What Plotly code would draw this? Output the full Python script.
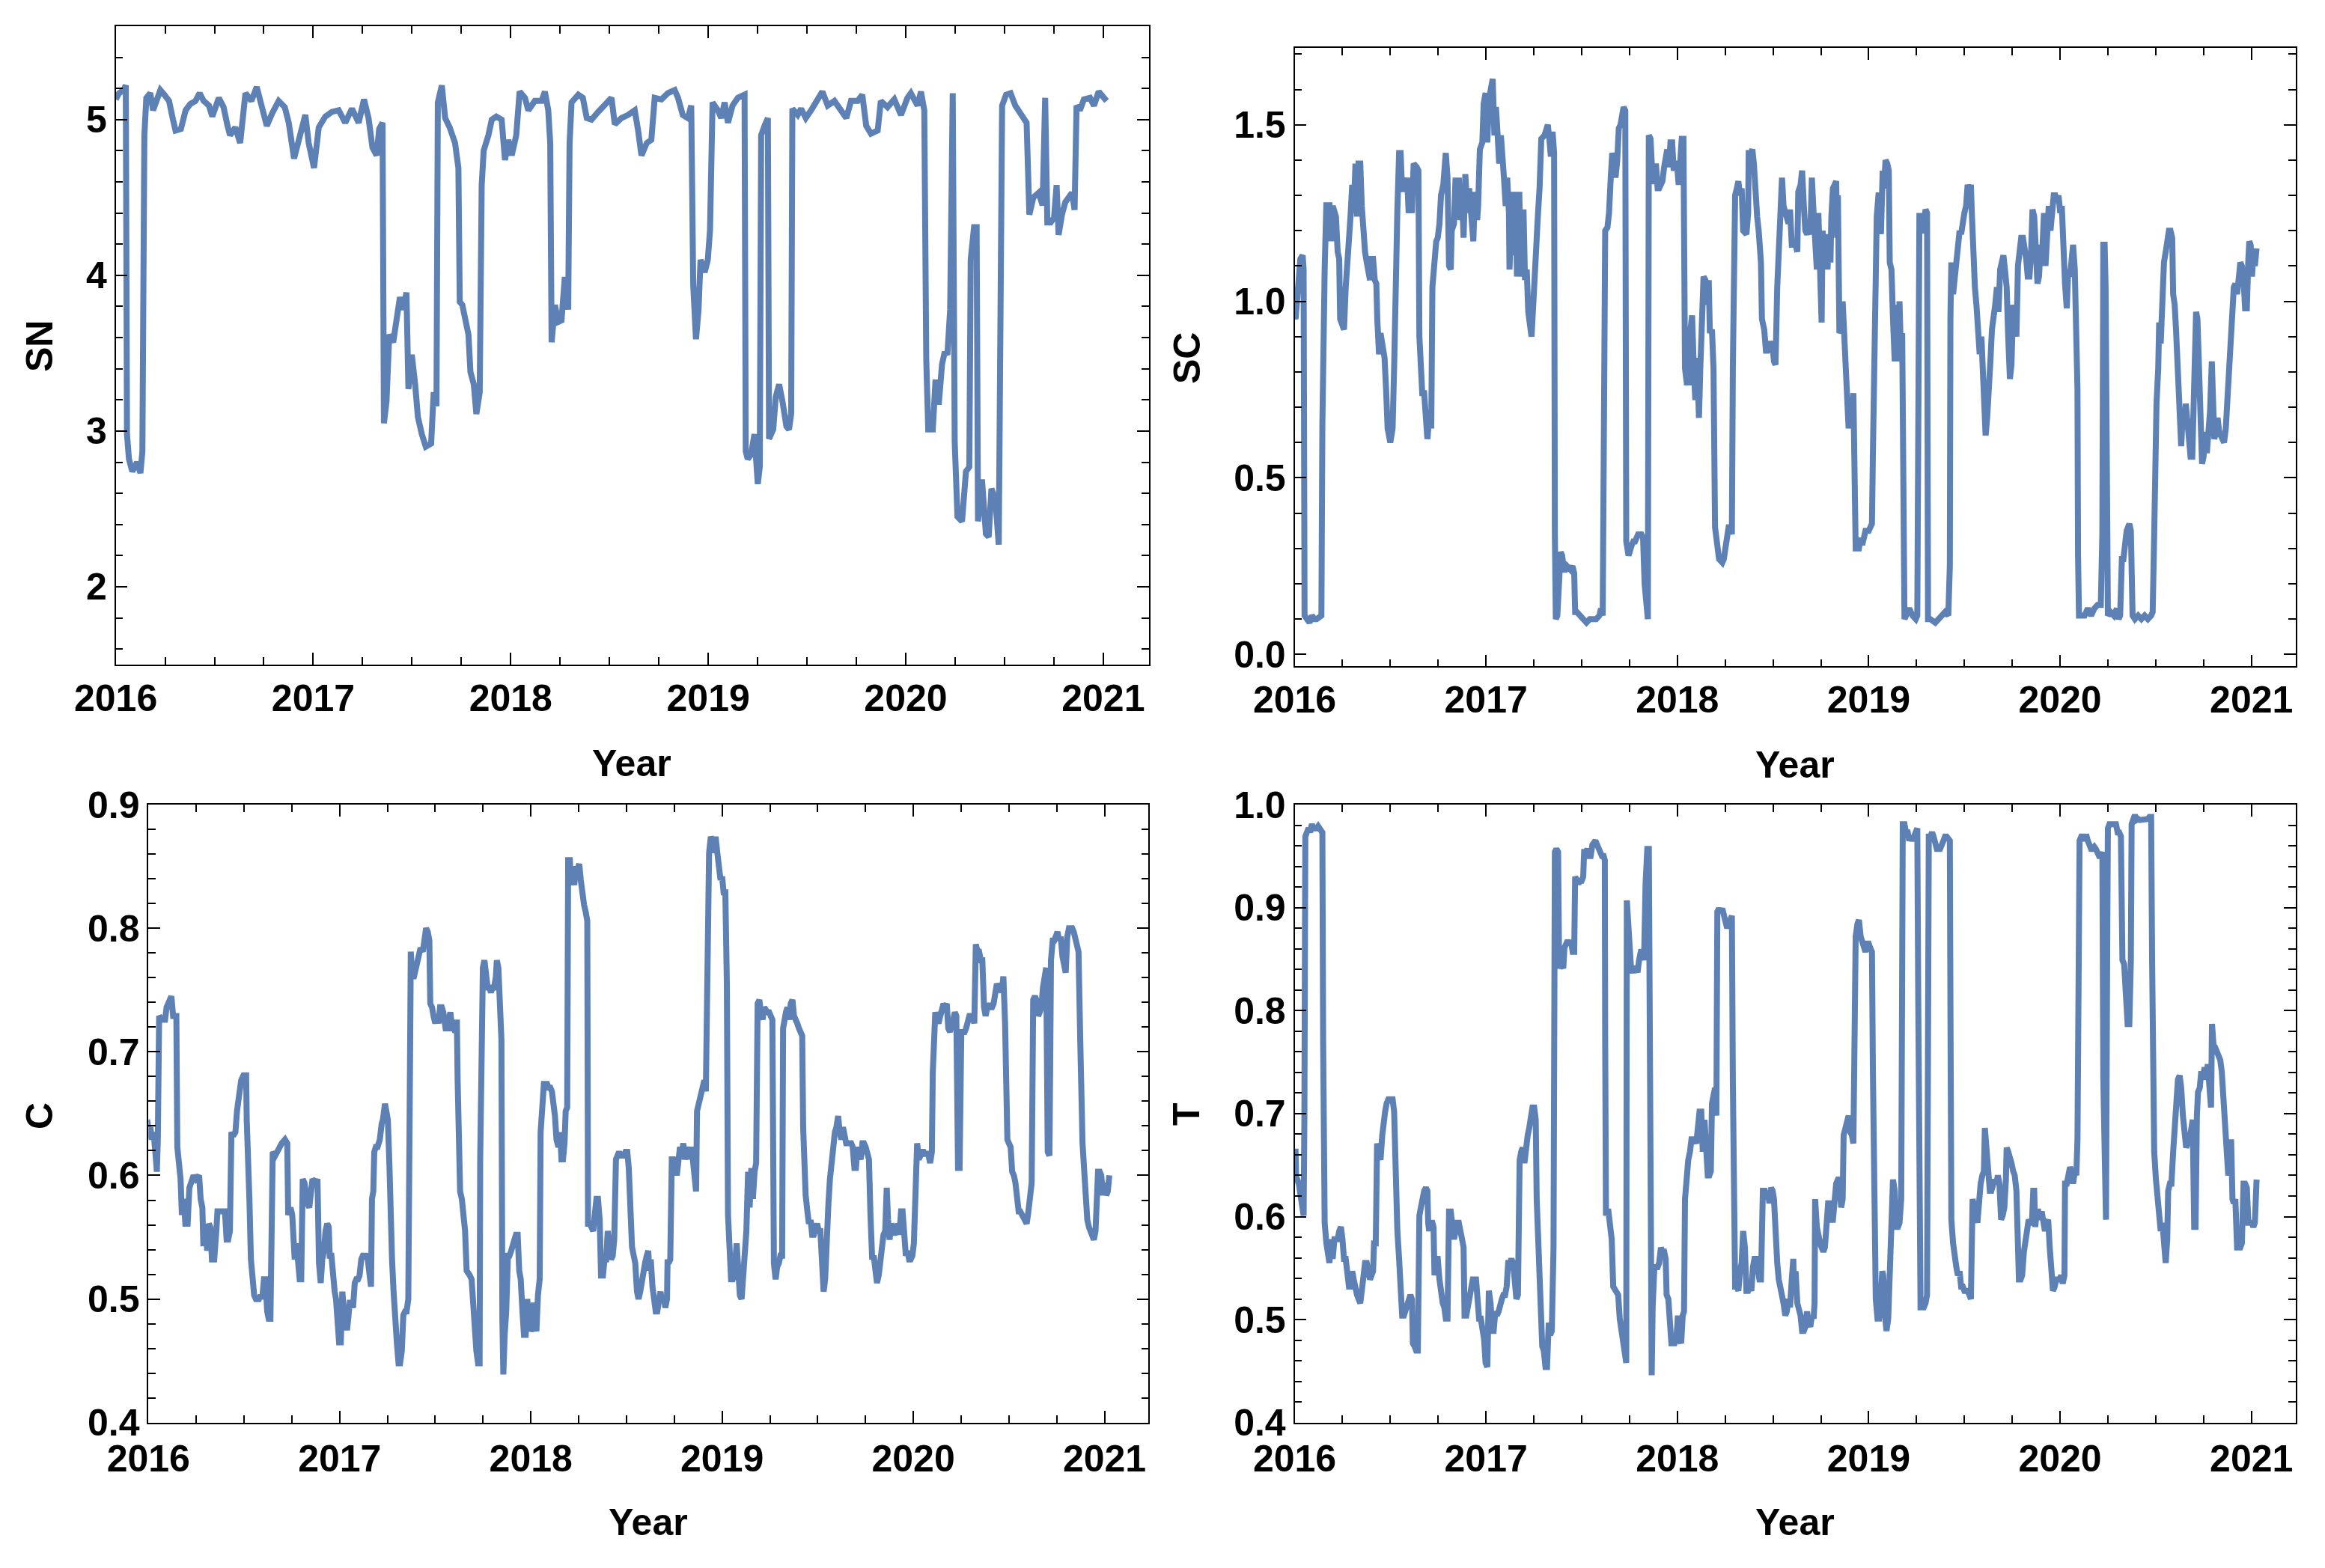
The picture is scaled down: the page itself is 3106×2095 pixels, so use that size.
import plotly.graph_objects as go

# ---------------- data (decimal year, value) ----------------
sn_points = [(2016.000,5.13),(2016.017,5.17),(2016.040,5.19),(2016.051,5.22),(2016.057,2.98),(2016.067,2.82),(2016.084,2.74),(2016.108,2.80),(2016.125,2.73),(2016.135,2.87),(2016.145,4.90),(2016.155,5.14),(2016.175,5.17),(2016.189,5.06),(2016.209,5.13),(2016.226,5.19),(2016.246,5.16),(2016.270,5.12),(2016.290,5.00),(2016.303,4.93),(2016.330,4.94),(2016.354,5.06),(2016.377,5.10),(2016.404,5.12),(2016.425,5.17),(2016.445,5.12),(2016.472,5.09),(2016.489,5.02),(2016.522,5.14),(2016.546,5.08),(2016.566,4.96),(2016.579,4.90),(2016.606,4.95),(2016.630,4.85),(2016.657,5.17),(2016.687,5.12),(2016.714,5.21),(2016.741,5.09),(2016.765,4.96),(2016.792,5.04),(2016.825,5.12),(2016.856,5.08),(2016.876,4.98),(2016.903,4.75),(2016.927,4.87),(2016.960,5.03),(2016.977,4.85),(2017.004,4.69),(2017.028,4.95),(2017.061,5.02),(2017.095,5.05),(2017.129,5.06),(2017.162,4.98),(2017.196,5.07),(2017.230,4.98),(2017.257,5.13),(2017.280,5.01),(2017.300,4.82),(2017.321,4.77),(2017.334,4.94),(2017.351,4.98),(2017.358,3.05),(2017.371,3.19),(2017.385,3.62),(2017.405,3.57),(2017.422,3.73),(2017.439,3.86),(2017.456,3.78),(2017.472,3.89),(2017.482,3.27),(2017.499,3.49),(2017.516,3.30),(2017.530,3.09),(2017.550,2.98),(2017.570,2.90),(2017.597,2.92),(2017.610,3.25),(2017.624,3.16),(2017.631,5.11),(2017.651,5.22),(2017.668,5.01),(2017.691,4.95),(2017.718,4.85),(2017.735,4.69),(2017.742,3.83),(2017.755,3.81),(2017.769,3.73),(2017.786,3.62),(2017.796,3.38),(2017.813,3.30),(2017.826,3.11),(2017.843,3.25),(2017.853,4.58),(2017.863,4.80),(2017.887,4.90),(2017.904,5.00),(2017.927,5.02),(2017.954,5.00),(2017.971,4.74),(2017.988,4.87),(2018.005,4.77),(2018.028,4.90),(2018.045,5.18),(2018.072,5.14),(2018.089,5.06),(2018.122,5.12),(2018.156,5.12),(2018.173,5.18),(2018.190,5.06),(2018.200,4.85),(2018.207,3.57),(2018.224,3.81),(2018.240,3.70),(2018.257,3.71),(2018.274,3.99),(2018.291,3.78),(2018.298,4.85),(2018.308,5.11),(2018.342,5.16),(2018.365,5.14),(2018.385,5.01),(2018.409,5.00),(2018.443,5.05),(2018.476,5.09),(2018.510,5.14),(2018.527,4.97),(2018.560,5.01),(2018.594,5.03),(2018.628,5.06),(2018.645,4.93),(2018.662,4.77),(2018.689,4.85),(2018.712,4.87),(2018.729,5.14),(2018.763,5.13),(2018.796,5.17),(2018.830,5.19),(2018.847,5.14),(2018.871,5.03),(2018.897,5.01),(2018.914,5.09),(2018.924,3.94),(2018.938,3.59),(2018.951,3.78),(2018.961,4.10),(2018.982,4.02),(2018.998,4.10),(2019.009,4.29),(2019.015,4.61),(2019.022,5.11),(2019.049,5.06),(2019.066,5.01),(2019.083,5.11),(2019.100,4.98),(2019.123,5.09),(2019.150,5.14),(2019.184,5.16),(2019.190,2.87),(2019.200,2.82),(2019.217,2.85),(2019.234,2.98),(2019.251,2.66),(2019.261,2.77),(2019.268,4.90),(2019.285,4.96),(2019.302,5.01),(2019.308,2.95),(2019.329,3.01),(2019.342,3.22),(2019.359,3.30),(2019.376,3.19),(2019.396,3.03),(2019.409,3.01),(2019.420,3.11),(2019.426,5.07),(2019.453,5.03),(2019.470,5.07),(2019.494,5.01),(2019.521,5.06),(2019.554,5.12),(2019.578,5.18),(2019.605,5.09),(2019.639,5.12),(2019.672,5.06),(2019.699,5.01),(2019.723,5.12),(2019.757,5.12),(2019.780,5.16),(2019.800,4.96),(2019.824,4.91),(2019.858,4.93),(2019.874,5.12),(2019.908,5.08),(2019.942,5.13),(2019.976,5.03),(2020.009,5.14),(2020.026,5.17),(2020.043,5.13),(2020.060,5.09),(2020.077,5.18),(2020.094,5.06),(2020.104,3.46),(2020.114,3.01),(2020.137,3.01),(2020.151,3.33),(2020.167,3.17),(2020.184,3.43),(2020.198,3.51),(2020.211,3.49),(2020.225,3.78),(2020.238,5.17),(2020.248,2.93),(2020.262,2.45),(2020.285,2.42),(2020.305,2.74),(2020.322,2.77),(2020.329,4.10),(2020.346,4.31),(2020.359,4.31),(2020.366,2.42),(2020.386,2.69),(2020.406,2.34),(2020.420,2.32),(2020.434,2.63),(2020.454,2.56),(2020.471,2.27),(2020.481,3.78),(2020.488,5.09),(2020.508,5.16),(2020.531,5.17),(2020.555,5.09),(2020.575,5.05),(2020.595,5.02),(2020.612,4.98),(2020.626,4.39),(2020.646,4.50),(2020.673,4.53),(2020.693,4.45),(2020.706,5.14),(2020.717,4.34),(2020.734,4.34),(2020.751,4.37),(2020.764,4.58),(2020.774,4.26),(2020.791,4.39),(2020.808,4.47),(2020.825,4.50),(2020.842,4.53),(2020.855,4.42),(2020.865,5.09),(2020.882,5.06),(2020.902,5.13),(2020.933,5.14),(2020.953,5.09),(2020.977,5.18),(2021.000,5.14),(2021.017,5.12)]

sc_points = [(2015.988,1.02),(2015.992,0.97),(2016.005,0.95),(2016.014,1.03),(2016.022,1.06),(2016.030,1.12),(2016.042,1.13),(2016.047,1.09),(2016.052,0.11),(2016.064,0.10),(2016.078,0.09),(2016.090,0.11),(2016.104,0.10),(2016.115,0.10),(2016.140,0.11),(2016.145,0.65),(2016.149,1.04),(2016.157,1.09),(2016.166,1.28),(2016.174,1.17),(2016.182,1.28),(2016.191,1.17),(2016.199,1.27),(2016.216,1.24),(2016.225,1.14),(2016.233,1.12),(2016.238,0.95),(2016.247,0.93),(2016.258,0.92),(2016.267,1.04),(2016.275,1.13),(2016.284,1.16),(2016.292,1.24),(2016.301,1.33),(2016.309,1.25),(2016.318,1.39),(2016.326,1.24),(2016.334,1.39),(2016.343,1.39),(2016.351,1.27),(2016.360,1.18),(2016.368,1.14),(2016.377,1.11),(2016.385,1.09),(2016.394,1.06),(2016.402,1.12),(2016.410,1.12),(2016.419,1.06),(2016.427,1.05),(2016.432,0.95),(2016.441,0.85),(2016.449,0.91),(2016.461,0.88),(2016.470,0.84),(2016.478,0.75),(2016.486,0.64),(2016.500,0.60),(2016.512,0.64),(2016.520,0.81),(2016.525,1.04),(2016.529,1.18),(2016.537,1.26),(2016.546,1.42),(2016.554,1.42),(2016.562,1.31),(2016.571,1.35),(2016.579,1.31),(2016.588,1.35),(2016.596,1.25),(2016.605,1.30),(2016.613,1.25),(2016.622,1.39),(2016.638,1.38),(2016.647,1.37),(2016.652,0.90),(2016.660,0.83),(2016.667,0.74),(2016.677,0.74),(2016.687,0.62),(2016.694,0.61),(2016.706,0.69),(2016.714,0.64),(2016.720,1.04),(2016.728,1.11),(2016.740,1.17),(2016.748,1.18),(2016.757,1.22),(2016.765,1.30),(2016.777,1.33),(2016.790,1.42),(2016.799,1.35),(2016.807,1.10),(2016.816,1.09),(2016.821,1.20),(2016.833,1.22),(2016.841,1.35),(2016.850,1.25),(2016.858,1.35),(2016.866,1.23),(2016.875,1.30),(2016.883,1.18),(2016.892,1.36),(2016.904,1.25),(2016.912,1.32),(2016.922,1.23),(2016.934,1.17),(2016.942,1.31),(2016.954,1.23),(2016.959,1.27),(2016.968,1.43),(2016.981,1.45),(2016.988,1.56),(2016.998,1.59),(2017.007,1.45),(2017.015,1.57),(2017.027,1.62),(2017.035,1.63),(2017.044,1.47),(2017.052,1.55),(2017.061,1.47),(2017.069,1.39),(2017.078,1.47),(2017.086,1.37),(2017.094,1.35),(2017.103,1.27),(2017.111,1.35),(2017.120,1.25),(2017.123,1.09),(2017.132,1.26),(2017.140,1.31),(2017.149,1.13),(2017.154,1.31),(2017.162,1.07),(2017.174,1.31),(2017.184,1.07),(2017.196,1.26),(2017.204,1.06),(2017.213,1.09),(2017.221,0.97),(2017.230,0.92),(2017.238,0.90),(2017.247,0.99),(2017.255,1.10),(2017.263,1.19),(2017.272,1.25),(2017.280,1.32),(2017.289,1.46),(2017.306,1.47),(2017.314,1.49),(2017.323,1.50),(2017.331,1.46),(2017.339,1.41),(2017.348,1.48),(2017.356,1.42),(2017.360,0.34),(2017.365,0.10),(2017.373,0.11),(2017.382,0.28),(2017.390,0.29),(2017.398,0.28),(2017.407,0.24),(2017.415,0.24),(2017.424,0.25),(2017.441,0.24),(2017.452,0.25),(2017.461,0.23),(2017.466,0.12),(2017.475,0.12),(2017.491,0.11),(2017.508,0.10),(2017.525,0.09),(2017.542,0.10),(2017.559,0.10),(2017.576,0.10),(2017.593,0.11),(2017.601,0.13),(2017.610,0.11),(2017.615,0.74),(2017.618,1.19),(2017.623,1.20),(2017.635,1.21),(2017.643,1.25),(2017.652,1.35),(2017.660,1.42),(2017.669,1.40),(2017.677,1.35),(2017.686,1.40),(2017.694,1.49),(2017.703,1.50),(2017.711,1.54),(2017.719,1.55),(2017.728,1.54),(2017.733,0.32),(2017.745,0.28),(2017.753,0.30),(2017.762,0.31),(2017.770,0.32),(2017.779,0.32),(2017.787,0.33),(2017.795,0.34),(2017.812,0.34),(2017.821,0.33),(2017.829,0.20),(2017.838,0.11),(2017.846,0.10),(2017.851,1.47),(2017.860,1.46),(2017.871,1.34),(2017.880,1.34),(2017.888,1.39),(2017.897,1.32),(2017.905,1.32),(2017.914,1.33),(2017.922,1.34),(2017.931,1.38),(2017.939,1.41),(2017.947,1.43),(2017.956,1.38),(2017.964,1.45),(2017.973,1.45),(2017.981,1.37),(2017.990,1.39),(2017.998,1.39),(2018.007,1.33),(2018.015,1.41),(2018.023,1.46),(2018.032,1.46),(2018.035,1.06),(2018.040,0.81),(2018.049,0.77),(2018.061,0.77),(2018.069,0.92),(2018.077,0.96),(2018.086,0.81),(2018.094,0.72),(2018.103,0.84),(2018.113,0.67),(2018.120,0.81),(2018.128,0.99),(2018.137,1.07),(2018.147,1.06),(2018.155,0.99),(2018.164,1.06),(2018.170,0.91),(2018.181,0.92),(2018.189,0.81),(2018.197,0.36),(2018.209,0.31),(2018.218,0.27),(2018.235,0.26),(2018.243,0.27),(2018.251,0.30),(2018.260,0.34),(2018.268,0.36),(2018.277,0.36),(2018.285,0.34),(2018.290,0.81),(2018.294,1.27),(2018.302,1.30),(2018.311,1.32),(2018.319,1.34),(2018.327,1.30),(2018.336,1.32),(2018.344,1.20),(2018.353,1.19),(2018.361,1.19),(2018.370,1.25),(2018.373,1.42),(2018.383,1.42),(2018.392,1.43),(2018.400,1.39),(2018.409,1.28),(2018.417,1.24),(2018.425,1.20),(2018.437,1.11),(2018.442,0.95),(2018.454,0.92),(2018.463,0.86),(2018.471,0.86),(2018.484,0.88),(2018.496,0.88),(2018.505,0.83),(2018.513,0.82),(2018.522,1.04),(2018.530,1.14),(2018.539,1.34),(2018.547,1.35),(2018.555,1.27),(2018.572,1.24),(2018.581,1.22),(2018.589,1.26),(2018.598,1.16),(2018.606,1.16),(2018.610,1.16),(2018.618,1.16),(2018.627,1.14),(2018.632,1.31),(2018.644,1.33),(2018.652,1.37),(2018.661,1.27),(2018.669,1.20),(2018.678,1.19),(2018.686,1.20),(2018.695,1.19),(2018.703,1.35),(2018.712,1.25),(2018.720,1.19),(2018.729,1.09),(2018.737,1.25),(2018.746,1.09),(2018.754,0.94),(2018.759,1.20),(2018.768,1.11),(2018.774,1.19),(2018.785,1.09),(2018.791,1.19),(2018.800,1.11),(2018.805,1.24),(2018.813,1.32),(2018.822,1.33),(2018.830,1.34),(2018.835,1.18),(2018.839,1.30),(2018.847,0.91),(2018.856,0.92),(2018.864,1.00),(2018.873,0.90),(2018.881,0.81),(2018.890,0.75),(2018.895,0.64),(2018.903,0.70),(2018.912,0.64),(2018.920,0.74),(2018.924,0.39),(2018.932,0.30),(2018.941,0.30),(2018.949,0.30),(2018.958,0.33),(2018.966,0.31),(2018.975,0.33),(2018.983,0.35),(2019.000,0.35),(2019.017,0.37),(2019.022,0.57),(2019.029,0.92),(2019.036,1.06),(2019.042,1.24),(2019.051,1.30),(2019.059,1.30),(2019.064,1.19),(2019.073,1.37),(2019.080,1.32),(2019.088,1.40),(2019.097,1.39),(2019.105,1.37),(2019.110,1.11),(2019.119,1.09),(2019.127,0.95),(2019.136,0.83),(2019.144,0.99),(2019.153,0.83),(2019.161,1.00),(2019.166,0.90),(2019.175,0.91),(2019.181,0.23),(2019.187,0.10),(2019.195,0.11),(2019.212,0.13),(2019.229,0.11),(2019.246,0.10),(2019.254,0.11),(2019.259,0.61),(2019.265,1.25),(2019.271,1.20),(2019.280,1.20),(2019.288,1.21),(2019.297,1.26),(2019.305,1.25),(2019.310,0.10),(2019.322,0.10),(2019.348,0.09),(2019.365,0.10),(2019.382,0.11),(2019.399,0.12),(2019.416,0.11),(2019.424,0.25),(2019.427,0.95),(2019.432,1.11),(2019.441,1.02),(2019.449,1.06),(2019.458,1.09),(2019.466,1.16),(2019.475,1.20),(2019.483,1.19),(2019.492,1.24),(2019.500,1.25),(2019.509,1.27),(2019.517,1.33),(2019.526,1.31),(2019.534,1.33),(2019.539,1.25),(2019.546,1.09),(2019.555,1.04),(2019.563,0.99),(2019.572,0.90),(2019.580,0.85),(2019.589,0.90),(2019.597,0.77),(2019.602,0.75),(2019.611,0.62),(2019.619,0.67),(2019.628,0.81),(2019.636,0.83),(2019.644,0.92),(2019.653,0.95),(2019.661,0.99),(2019.670,1.04),(2019.678,0.97),(2019.687,1.09),(2019.695,1.11),(2019.704,1.13),(2019.712,1.09),(2019.721,1.04),(2019.729,0.90),(2019.738,0.78),(2019.746,0.82),(2019.755,0.99),(2019.763,0.95),(2019.772,0.90),(2019.780,1.10),(2019.789,1.14),(2019.797,1.18),(2019.806,1.18),(2019.814,1.16),(2019.823,1.12),(2019.831,1.07),(2019.840,1.07),(2019.848,1.13),(2019.856,1.26),(2019.865,1.24),(2019.873,1.11),(2019.882,1.05),(2019.890,1.07),(2019.899,1.16),(2019.907,1.14),(2019.916,1.25),(2019.924,1.10),(2019.933,1.19),(2019.941,1.27),(2019.950,1.20),(2019.958,1.27),(2019.967,1.30),(2019.975,1.30),(2019.984,1.28),(2019.992,1.30),(2020.001,1.25),(2020.009,1.27),(2020.018,1.07),(2020.026,1.05),(2020.035,0.98),(2020.043,1.09),(2020.052,1.07),(2020.060,1.11),(2020.068,1.16),(2020.077,1.09),(2020.085,0.95),(2020.091,0.75),(2020.094,0.28),(2020.099,0.11),(2020.111,0.11),(2020.128,0.11),(2020.145,0.13),(2020.162,0.11),(2020.179,0.13),(2020.196,0.14),(2020.213,0.14),(2020.221,0.34),(2020.226,1.16),(2020.233,1.16),(2020.238,1.04),(2020.243,0.34),(2020.250,0.11),(2020.264,0.12),(2020.281,0.11),(2020.297,0.13),(2020.306,0.10),(2020.314,0.11),(2020.323,0.27),(2020.331,0.27),(2020.340,0.31),(2020.348,0.35),(2020.362,0.37),(2020.370,0.35),(2020.379,0.11),(2020.391,0.10),(2020.408,0.11),(2020.425,0.10),(2020.442,0.11),(2020.459,0.10),(2020.476,0.11),(2020.484,0.12),(2020.492,0.34),(2020.498,0.63),(2020.504,0.71),(2020.513,0.81),(2020.518,0.94),(2020.526,0.88),(2020.535,1.07),(2020.543,1.11),(2020.552,1.14),(2020.560,1.17),(2020.569,1.20),(2020.577,1.20),(2020.586,1.18),(2020.591,1.02),(2020.599,0.99),(2020.606,0.92),(2020.613,0.83),(2020.620,0.78),(2020.628,0.69),(2020.633,0.59),(2020.642,0.69),(2020.650,0.64),(2020.657,0.71),(2020.665,0.66),(2020.674,0.62),(2020.682,0.56),(2020.691,0.56),(2020.698,0.69),(2020.704,0.89),(2020.711,0.97),(2020.718,0.95),(2020.725,0.83),(2020.733,0.64),(2020.742,0.54),(2020.750,0.56),(2020.759,0.63),(2020.767,0.57),(2020.776,0.64),(2020.784,0.69),(2020.793,0.83),(2020.799,0.71),(2020.806,0.61),(2020.815,0.63),(2020.823,0.67),(2020.832,0.63),(2020.840,0.62),(2020.849,0.61),(2020.857,0.60),(2020.866,0.64),(2020.874,0.72),(2020.883,0.78),(2020.891,0.88),(2020.900,0.95),(2020.908,1.04),(2020.916,1.05),(2020.925,1.02),(2020.933,1.06),(2020.942,1.11),(2020.950,1.10),(2020.959,1.06),(2020.967,0.98),(2020.976,0.98),(2020.984,1.12),(2020.989,1.17),(2020.996,1.16),(2021.003,1.07),(2021.010,1.13),(2021.018,1.10),(2021.027,1.15)]

c_points = [(2015.985,0.629),(2015.993,0.645),(2016.002,0.635),(2016.010,0.639),(2016.019,0.629),(2016.027,0.635),(2016.036,0.619),(2016.044,0.603),(2016.049,0.629),(2016.053,0.723),(2016.056,0.729),(2016.070,0.726),(2016.087,0.726),(2016.095,0.736),(2016.103,0.739),(2016.112,0.742),(2016.120,0.745),(2016.129,0.729),(2016.137,0.729),(2016.146,0.729),(2016.151,0.623),(2016.158,0.613),(2016.168,0.597),(2016.175,0.568),(2016.185,0.581),(2016.193,0.561),(2016.205,0.561),(2016.214,0.590),(2016.226,0.594),(2016.236,0.600),(2016.248,0.597),(2016.265,0.600),(2016.273,0.581),(2016.282,0.574),(2016.287,0.545),(2016.293,0.545),(2016.302,0.561),(2016.307,0.539),(2016.316,0.561),(2016.324,0.558),(2016.332,0.532),(2016.344,0.532),(2016.355,0.555),(2016.361,0.571),(2016.375,0.571),(2016.392,0.571),(2016.400,0.571),(2016.409,0.548),(2016.417,0.548),(2016.426,0.555),(2016.434,0.635),(2016.443,0.632),(2016.455,0.635),(2016.463,0.652),(2016.473,0.665),(2016.485,0.677),(2016.497,0.681),(2016.511,0.681),(2016.514,0.645),(2016.521,0.623),(2016.528,0.581),(2016.536,0.532),(2016.545,0.516),(2016.553,0.503),(2016.562,0.500),(2016.578,0.500),(2016.587,0.503),(2016.595,0.500),(2016.604,0.516),(2016.612,0.516),(2016.621,0.490),(2016.629,0.484),(2016.638,0.484),(2016.643,0.613),(2016.650,0.619),(2016.663,0.616),(2016.672,0.619),(2016.680,0.623),(2016.697,0.626),(2016.714,0.629),(2016.726,0.626),(2016.731,0.568),(2016.743,0.574),(2016.752,0.568),(2016.757,0.548),(2016.765,0.532),(2016.774,0.545),(2016.782,0.535),(2016.791,0.516),(2016.799,0.516),(2016.807,0.597),(2016.816,0.594),(2016.824,0.581),(2016.833,0.577),(2016.841,0.574),(2016.850,0.594),(2016.858,0.597),(2016.875,0.594),(2016.884,0.597),(2016.892,0.529),(2016.901,0.513),(2016.909,0.532),(2016.918,0.539),(2016.926,0.555),(2016.935,0.561),(2016.943,0.558),(2016.948,0.535),(2016.957,0.535),(2016.965,0.513),(2016.974,0.506),(2016.981,0.500),(2016.986,0.484),(2016.997,0.465),(2017.006,0.465),(2017.014,0.506),(2017.023,0.490),(2017.031,0.477),(2017.040,0.477),(2017.048,0.490),(2017.053,0.497),(2017.062,0.497),(2017.070,0.493),(2017.079,0.513),(2017.087,0.516),(2017.096,0.516),(2017.104,0.519),(2017.113,0.532),(2017.121,0.535),(2017.130,0.535),(2017.138,0.535),(2017.147,0.532),(2017.155,0.516),(2017.164,0.510),(2017.169,0.581),(2017.176,0.587),(2017.181,0.619),(2017.189,0.623),(2017.198,0.623),(2017.210,0.629),(2017.220,0.642),(2017.226,0.645),(2017.237,0.658),(2017.243,0.652),(2017.252,0.645),(2017.260,0.610),(2017.266,0.548),(2017.274,0.532),(2017.282,0.506),(2017.291,0.468),(2017.299,0.465),(2017.308,0.448),(2017.316,0.448),(2017.325,0.458),(2017.333,0.487),(2017.342,0.490),(2017.350,0.490),(2017.359,0.500),(2017.362,0.710),(2017.369,0.713),(2017.372,0.781),(2017.379,0.761),(2017.389,0.761),(2017.398,0.768),(2017.406,0.771),(2017.415,0.777),(2017.423,0.784),(2017.435,0.781),(2017.444,0.793),(2017.452,0.800),(2017.461,0.797),(2017.469,0.790),(2017.474,0.739),(2017.483,0.736),(2017.491,0.729),(2017.500,0.723),(2017.508,0.729),(2017.517,0.723),(2017.525,0.736),(2017.534,0.736),(2017.542,0.732),(2017.554,0.719),(2017.562,0.719),(2017.571,0.726),(2017.579,0.732),(2017.588,0.719),(2017.596,0.719),(2017.605,0.716),(2017.613,0.726),(2017.617,0.677),(2017.622,0.590),(2017.630,0.587),(2017.639,0.581),(2017.647,0.571),(2017.656,0.555),(2017.664,0.523),(2017.673,0.519),(2017.681,0.519),(2017.690,0.516),(2017.698,0.493),(2017.707,0.481),(2017.715,0.458),(2017.724,0.448),(2017.732,0.448),(2017.735,0.613),(2017.741,0.755),(2017.749,0.768),(2017.757,0.774),(2017.766,0.761),(2017.774,0.752),(2017.783,0.752),(2017.791,0.748),(2017.800,0.752),(2017.808,0.752),(2017.817,0.761),(2017.822,0.774),(2017.830,0.768),(2017.837,0.723),(2017.846,0.710),(2017.851,0.484),(2017.856,0.439),(2017.863,0.471),(2017.871,0.490),(2017.880,0.535),(2017.888,0.535),(2017.897,0.539),(2017.905,0.542),(2017.914,0.548),(2017.922,0.552),(2017.931,0.552),(2017.939,0.523),(2017.947,0.516),(2017.956,0.490),(2017.964,0.471),(2017.973,0.471),(2017.981,0.500),(2017.990,0.484),(2017.998,0.474),(2018.007,0.477),(2018.015,0.497),(2018.024,0.477),(2018.029,0.474),(2018.037,0.503),(2018.046,0.516),(2018.051,0.635),(2018.059,0.668),(2018.068,0.674),(2018.076,0.674),(2018.085,0.674),(2018.093,0.671),(2018.102,0.671),(2018.110,0.668),(2018.119,0.658),(2018.126,0.648),(2018.134,0.629),(2018.144,0.623),(2018.153,0.635),(2018.160,0.613),(2018.168,0.613),(2018.176,0.626),(2018.182,0.652),(2018.190,0.655),(2018.195,0.855),(2018.204,0.855),(2018.210,0.835),(2018.219,0.842),(2018.227,0.835),(2018.236,0.848),(2018.244,0.848),(2018.253,0.852),(2018.261,0.839),(2018.270,0.823),(2018.278,0.819),(2018.287,0.813),(2018.295,0.806),(2018.299,0.561),(2018.309,0.561),(2018.317,0.558),(2018.326,0.555),(2018.334,0.568),(2018.343,0.581),(2018.351,0.581),(2018.360,0.564),(2018.367,0.519),(2018.377,0.519),(2018.385,0.532),(2018.394,0.532),(2018.402,0.555),(2018.411,0.535),(2018.419,0.532),(2018.428,0.535),(2018.436,0.548),(2018.445,0.613),(2018.453,0.616),(2018.461,0.619),(2018.470,0.616),(2018.478,0.616),(2018.487,0.616),(2018.495,0.619),(2018.504,0.619),(2018.512,0.606),(2018.521,0.555),(2018.529,0.542),(2018.538,0.535),(2018.546,0.529),(2018.555,0.506),(2018.563,0.500),(2018.572,0.506),(2018.580,0.516),(2018.589,0.523),(2018.597,0.529),(2018.606,0.535),(2018.614,0.539),(2018.619,0.523),(2018.627,0.532),(2018.636,0.510),(2018.644,0.497),(2018.653,0.490),(2018.661,0.490),(2018.669,0.500),(2018.678,0.506),(2018.686,0.497),(2018.695,0.503),(2018.703,0.493),(2018.712,0.500),(2018.715,0.532),(2018.720,0.529),(2018.729,0.532),(2018.737,0.613),(2018.746,0.613),(2018.754,0.610),(2018.763,0.600),(2018.771,0.610),(2018.780,0.623),(2018.788,0.616),(2018.797,0.626),(2018.805,0.613),(2018.814,0.619),(2018.822,0.623),(2018.831,0.613),(2018.839,0.623),(2018.847,0.613),(2018.856,0.594),(2018.864,0.587),(2018.869,0.652),(2018.878,0.658),(2018.886,0.661),(2018.895,0.671),(2018.907,0.677),(2018.915,0.668),(2018.924,0.810),(2018.932,0.861),(2018.941,0.874),(2018.949,0.871),(2018.958,0.861),(2018.966,0.874),(2018.975,0.861),(2018.983,0.852),(2018.992,0.839),(2019.000,0.842),(2019.008,0.829),(2019.017,0.829),(2019.025,0.755),(2019.031,0.568),(2019.039,0.548),(2019.047,0.516),(2019.056,0.516),(2019.064,0.519),(2019.076,0.545),(2019.085,0.513),(2019.093,0.503),(2019.102,0.500),(2019.110,0.516),(2019.119,0.532),(2019.127,0.555),(2019.136,0.603),(2019.144,0.574),(2019.153,0.606),(2019.161,0.581),(2019.170,0.603),(2019.178,0.610),(2019.186,0.739),(2019.195,0.742),(2019.203,0.732),(2019.212,0.726),(2019.220,0.736),(2019.229,0.732),(2019.237,0.732),(2019.246,0.732),(2019.254,0.729),(2019.263,0.726),(2019.271,0.529),(2019.280,0.516),(2019.288,0.526),(2019.297,0.529),(2019.305,0.535),(2019.314,0.535),(2019.319,0.719),(2019.325,0.729),(2019.334,0.732),(2019.342,0.736),(2019.351,0.726),(2019.359,0.739),(2019.368,0.742),(2019.376,0.729),(2019.385,0.723),(2019.393,0.723),(2019.402,0.719),(2019.410,0.716),(2019.419,0.713),(2019.424,0.639),(2019.429,0.594),(2019.437,0.584),(2019.446,0.571),(2019.454,0.561),(2019.463,0.564),(2019.471,0.552),(2019.480,0.552),(2019.488,0.555),(2019.497,0.561),(2019.505,0.555),(2019.514,0.555),(2019.522,0.532),(2019.531,0.506),(2019.539,0.516),(2019.547,0.561),(2019.556,0.577),(2019.564,0.597),(2019.573,0.613),(2019.581,0.623),(2019.590,0.635),(2019.598,0.639),(2019.607,0.648),(2019.615,0.635),(2019.624,0.629),(2019.632,0.639),(2019.641,0.632),(2019.649,0.626),(2019.658,0.626),(2019.666,0.626),(2019.675,0.626),(2019.683,0.623),(2019.692,0.606),(2019.700,0.606),(2019.709,0.623),(2019.717,0.616),(2019.725,0.613),(2019.734,0.626),(2019.742,0.626),(2019.751,0.623),(2019.759,0.619),(2019.768,0.613),(2019.776,0.568),(2019.785,0.532),(2019.793,0.535),(2019.802,0.519),(2019.810,0.513),(2019.819,0.519),(2019.827,0.532),(2019.836,0.542),(2019.844,0.552),(2019.853,0.555),(2019.861,0.590),(2019.868,0.564),(2019.876,0.548),(2019.885,0.561),(2019.893,0.558),(2019.902,0.552),(2019.910,0.555),(2019.919,0.561),(2019.927,0.552),(2019.936,0.571),(2019.944,0.571),(2019.953,0.539),(2019.961,0.535),(2019.970,0.539),(2019.978,0.532),(2019.986,0.532),(2019.995,0.535),(2020.003,0.545),(2020.012,0.619),(2020.020,0.626),(2020.029,0.613),(2020.037,0.616),(2020.046,0.619),(2020.054,0.619),(2020.063,0.616),(2020.071,0.619),(2020.080,0.616),(2020.088,0.610),(2020.097,0.619),(2020.102,0.684),(2020.107,0.726),(2020.115,0.732),(2020.124,0.726),(2020.132,0.723),(2020.141,0.729),(2020.149,0.736),(2020.158,0.739),(2020.166,0.736),(2020.175,0.739),(2020.183,0.719),(2020.192,0.716),(2020.200,0.723),(2020.209,0.726),(2020.217,0.732),(2020.225,0.729),(2020.234,0.606),(2020.242,0.606),(2020.251,0.716),(2020.259,0.716),(2020.268,0.716),(2020.276,0.719),(2020.285,0.726),(2020.293,0.729),(2020.302,0.729),(2020.310,0.729),(2020.319,0.723),(2020.327,0.787),(2020.336,0.781),(2020.344,0.781),(2020.353,0.774),(2020.361,0.774),(2020.370,0.736),(2020.378,0.729),(2020.387,0.736),(2020.395,0.739),(2020.403,0.736),(2020.412,0.736),(2020.420,0.739),(2020.429,0.752),(2020.437,0.755),(2020.446,0.752),(2020.454,0.752),(2020.463,0.748),(2020.471,0.761),(2020.480,0.723),(2020.488,0.652),(2020.492,0.629),(2020.500,0.626),(2020.509,0.623),(2020.517,0.603),(2020.526,0.600),(2020.534,0.594),(2020.542,0.577),(2020.551,0.571),(2020.559,0.571),(2020.568,0.568),(2020.576,0.568),(2020.585,0.564),(2020.593,0.561),(2020.602,0.571),(2020.610,0.581),(2020.619,0.594),(2020.627,0.742),(2020.636,0.745),(2020.644,0.742),(2020.653,0.729),(2020.661,0.732),(2020.670,0.736),(2020.678,0.752),(2020.686,0.758),(2020.695,0.768),(2020.703,0.619),(2020.712,0.616),(2020.720,0.774),(2020.729,0.790),(2020.737,0.790),(2020.746,0.793),(2020.754,0.797),(2020.763,0.790),(2020.771,0.793),(2020.780,0.777),(2020.788,0.768),(2020.797,0.764),(2020.805,0.793),(2020.814,0.800),(2020.822,0.800),(2020.831,0.800),(2020.839,0.797),(2020.848,0.790),(2020.856,0.787),(2020.864,0.781),(2020.873,0.710),(2020.878,0.655),(2020.885,0.626),(2020.893,0.606),(2020.902,0.581),(2020.910,0.564),(2020.919,0.558),(2020.927,0.555),(2020.936,0.552),(2020.944,0.548),(2020.953,0.555),(2020.958,0.597),(2020.966,0.603),(2020.975,0.603),(2020.983,0.600),(2020.992,0.584),(2021.000,0.594),(2021.009,0.584),(2021.017,0.587),(2021.025,0.600)]

t_points = [(2015.985,0.605),(2015.988,0.655),(2015.997,0.663),(2016.005,0.663),(2016.008,0.636),(2016.014,0.636),(2016.022,0.632),(2016.030,0.621),(2016.039,0.609),(2016.047,0.601),(2016.051,0.694),(2016.052,0.868),(2016.056,0.969),(2016.064,0.973),(2016.073,0.977),(2016.081,0.973),(2016.090,0.981),(2016.098,0.977),(2016.106,0.977),(2016.115,0.977),(2016.123,0.979),(2016.132,0.977),(2016.140,0.975),(2016.145,0.973),(2016.149,0.772),(2016.152,0.617),(2016.157,0.594),(2016.166,0.574),(2016.174,0.566),(2016.182,0.555),(2016.191,0.578),(2016.199,0.559),(2016.208,0.578),(2016.225,0.578),(2016.233,0.586),(2016.242,0.590),(2016.250,0.578),(2016.258,0.559),(2016.267,0.559),(2016.275,0.547),(2016.284,0.532),(2016.292,0.532),(2016.301,0.547),(2016.309,0.539),(2016.318,0.528),(2016.326,0.524),(2016.334,0.520),(2016.343,0.516),(2016.351,0.528),(2016.360,0.539),(2016.368,0.555),(2016.377,0.555),(2016.385,0.547),(2016.394,0.539),(2016.402,0.543),(2016.410,0.547),(2016.415,0.574),(2016.424,0.574),(2016.431,0.671),(2016.441,0.663),(2016.449,0.655),(2016.458,0.679),(2016.464,0.694),(2016.473,0.702),(2016.481,0.710),(2016.490,0.714),(2016.500,0.714),(2016.512,0.714),(2016.520,0.702),(2016.524,0.663),(2016.529,0.617),(2016.537,0.586),(2016.546,0.559),(2016.554,0.539),(2016.562,0.504),(2016.571,0.504),(2016.579,0.508),(2016.588,0.512),(2016.596,0.520),(2016.605,0.524),(2016.613,0.520),(2016.618,0.477),(2016.627,0.474),(2016.635,0.470),(2016.644,0.470),(2016.647,0.555),(2016.652,0.601),(2016.660,0.609),(2016.669,0.621),(2016.677,0.625),(2016.686,0.628),(2016.694,0.625),(2016.698,0.594),(2016.703,0.586),(2016.711,0.594),(2016.720,0.594),(2016.726,0.590),(2016.731,0.543),(2016.740,0.559),(2016.748,0.559),(2016.757,0.539),(2016.765,0.520),(2016.774,0.516),(2016.782,0.512),(2016.790,0.501),(2016.799,0.501),(2016.807,0.605),(2016.816,0.605),(2016.824,0.582),(2016.833,0.578),(2016.841,0.586),(2016.850,0.594),(2016.858,0.594),(2016.866,0.582),(2016.875,0.578),(2016.883,0.570),(2016.888,0.504),(2016.897,0.504),(2016.905,0.512),(2016.914,0.520),(2016.922,0.535),(2016.931,0.539),(2016.939,0.539),(2016.948,0.539),(2016.956,0.520),(2016.964,0.501),(2016.973,0.501),(2016.981,0.493),(2016.990,0.481),(2016.998,0.458),(2017.007,0.454),(2017.015,0.528),(2017.024,0.516),(2017.032,0.489),(2017.040,0.489),(2017.049,0.508),(2017.057,0.504),(2017.066,0.508),(2017.074,0.516),(2017.083,0.520),(2017.091,0.524),(2017.100,0.524),(2017.108,0.532),(2017.116,0.555),(2017.125,0.555),(2017.133,0.559),(2017.142,0.555),(2017.150,0.528),(2017.159,0.520),(2017.167,0.524),(2017.170,0.617),(2017.176,0.655),(2017.184,0.663),(2017.192,0.667),(2017.201,0.652),(2017.209,0.671),(2017.218,0.679),(2017.226,0.686),(2017.235,0.698),(2017.243,0.706),(2017.252,0.706),(2017.260,0.694),(2017.265,0.617),(2017.272,0.582),(2017.280,0.539),(2017.285,0.532),(2017.294,0.474),(2017.302,0.470),(2017.311,0.454),(2017.319,0.454),(2017.328,0.497),(2017.336,0.485),(2017.344,0.489),(2017.353,0.570),(2017.356,0.857),(2017.360,0.954),(2017.368,0.957),(2017.377,0.954),(2017.382,0.849),(2017.387,0.841),(2017.395,0.845),(2017.404,0.841),(2017.410,0.861),(2017.419,0.865),(2017.427,0.868),(2017.436,0.865),(2017.444,0.868),(2017.453,0.857),(2017.461,0.857),(2017.466,0.930),(2017.475,0.926),(2017.483,0.923),(2017.491,0.926),(2017.500,0.926),(2017.508,0.930),(2017.513,0.954),(2017.522,0.954),(2017.530,0.957),(2017.539,0.950),(2017.547,0.950),(2017.556,0.961),(2017.564,0.965),(2017.572,0.965),(2017.581,0.961),(2017.589,0.957),(2017.598,0.950),(2017.606,0.950),(2017.615,0.950),(2017.621,0.946),(2017.623,0.772),(2017.627,0.601),(2017.632,0.605),(2017.640,0.605),(2017.648,0.586),(2017.657,0.578),(2017.665,0.532),(2017.674,0.528),(2017.682,0.528),(2017.691,0.524),(2017.699,0.501),(2017.708,0.489),(2017.716,0.474),(2017.724,0.462),(2017.733,0.458),(2017.736,0.907),(2017.741,0.888),(2017.750,0.880),(2017.758,0.841),(2017.767,0.837),(2017.775,0.841),(2017.784,0.841),(2017.792,0.837),(2017.800,0.849),(2017.809,0.857),(2017.817,0.857),(2017.826,0.849),(2017.834,0.923),(2017.843,0.957),(2017.851,0.957),(2017.855,0.791),(2017.860,0.501),(2017.866,0.446),(2017.871,0.512),(2017.880,0.551),(2017.888,0.551),(2017.897,0.551),(2017.905,0.555),(2017.914,0.570),(2017.922,0.566),(2017.931,0.566),(2017.939,0.559),(2017.944,0.524),(2017.953,0.520),(2017.961,0.501),(2017.969,0.477),(2017.978,0.477),(2017.986,0.477),(2017.995,0.481),(2018.003,0.504),(2018.012,0.481),(2018.020,0.477),(2018.028,0.504),(2018.035,0.508),(2018.040,0.617),(2018.049,0.640),(2018.057,0.655),(2018.066,0.663),(2018.074,0.675),(2018.083,0.675),(2018.091,0.675),(2018.099,0.671),(2018.108,0.694),(2018.116,0.702),(2018.125,0.702),(2018.133,0.663),(2018.142,0.694),(2018.150,0.648),(2018.159,0.640),(2018.167,0.640),(2018.175,0.644),(2018.181,0.710),(2018.189,0.717),(2018.197,0.725),(2018.204,0.698),(2018.209,0.896),(2018.218,0.899),(2018.226,0.896),(2018.235,0.899),(2018.243,0.892),(2018.251,0.884),(2018.260,0.880),(2018.268,0.884),(2018.277,0.888),(2018.285,0.892),(2018.290,0.733),(2018.295,0.532),(2018.302,0.532),(2018.311,0.532),(2018.319,0.528),(2018.327,0.547),(2018.336,0.555),(2018.344,0.586),(2018.353,0.570),(2018.361,0.528),(2018.370,0.528),(2018.378,0.532),(2018.387,0.528),(2018.395,0.551),(2018.403,0.559),(2018.412,0.559),(2018.420,0.551),(2018.429,0.539),(2018.437,0.539),(2018.442,0.617),(2018.447,0.625),(2018.456,0.625),(2018.464,0.617),(2018.473,0.625),(2018.481,0.613),(2018.490,0.628),(2018.498,0.625),(2018.505,0.617),(2018.513,0.578),(2018.522,0.555),(2018.530,0.539),(2018.539,0.532),(2018.547,0.520),(2018.555,0.516),(2018.564,0.504),(2018.572,0.508),(2018.581,0.520),(2018.589,0.512),(2018.598,0.539),(2018.606,0.559),(2018.610,0.528),(2018.618,0.547),(2018.627,0.516),(2018.635,0.512),(2018.644,0.504),(2018.652,0.489),(2018.661,0.489),(2018.669,0.493),(2018.678,0.508),(2018.686,0.497),(2018.695,0.493),(2018.703,0.504),(2018.712,0.501),(2018.717,0.516),(2018.720,0.617),(2018.729,0.590),(2018.737,0.578),(2018.746,0.574),(2018.754,0.570),(2018.763,0.566),(2018.771,0.570),(2018.780,0.594),(2018.788,0.613),(2018.796,0.613),(2018.805,0.597),(2018.813,0.597),(2018.822,0.621),(2018.830,0.632),(2018.839,0.636),(2018.847,0.636),(2018.856,0.609),(2018.864,0.617),(2018.869,0.679),(2018.878,0.686),(2018.886,0.694),(2018.895,0.698),(2018.902,0.683),(2018.912,0.679),(2018.920,0.671),(2018.924,0.772),(2018.932,0.872),(2018.941,0.884),(2018.949,0.888),(2018.958,0.872),(2018.966,0.865),(2018.975,0.861),(2018.983,0.857),(2018.992,0.865),(2019.000,0.865),(2019.008,0.861),(2019.017,0.857),(2019.022,0.741),(2019.029,0.555),(2019.037,0.520),(2019.046,0.501),(2019.054,0.501),(2019.063,0.520),(2019.071,0.547),(2019.076,0.543),(2019.085,0.504),(2019.093,0.489),(2019.102,0.501),(2019.110,0.555),(2019.119,0.578),(2019.127,0.636),(2019.136,0.625),(2019.144,0.590),(2019.153,0.590),(2019.161,0.594),(2019.170,0.617),(2019.178,0.981),(2019.187,0.981),(2019.195,0.973),(2019.204,0.973),(2019.212,0.965),(2019.220,0.969),(2019.229,0.965),(2019.237,0.969),(2019.246,0.977),(2019.254,0.977),(2019.259,0.810),(2019.263,0.528),(2019.271,0.512),(2019.280,0.512),(2019.288,0.512),(2019.297,0.516),(2019.305,0.524),(2019.310,0.772),(2019.314,0.969),(2019.322,0.969),(2019.331,0.973),(2019.339,0.969),(2019.348,0.961),(2019.356,0.957),(2019.365,0.957),(2019.373,0.957),(2019.382,0.961),(2019.390,0.965),(2019.399,0.969),(2019.407,0.969),(2019.416,0.965),(2019.424,0.965),(2019.427,0.810),(2019.432,0.597),(2019.441,0.574),(2019.449,0.559),(2019.458,0.551),(2019.466,0.543),(2019.475,0.547),(2019.483,0.532),(2019.492,0.532),(2019.500,0.528),(2019.509,0.528),(2019.517,0.528),(2019.526,0.524),(2019.534,0.520),(2019.543,0.617),(2019.551,0.605),(2019.560,0.601),(2019.568,0.594),(2019.577,0.625),(2019.585,0.632),(2019.594,0.640),(2019.602,0.644),(2019.607,0.686),(2019.616,0.663),(2019.624,0.655),(2019.633,0.625),(2019.641,0.625),(2019.650,0.632),(2019.658,0.636),(2019.667,0.632),(2019.675,0.640),(2019.683,0.632),(2019.692,0.597),(2019.700,0.601),(2019.709,0.609),(2019.717,0.636),(2019.721,0.667),(2019.729,0.663),(2019.738,0.659),(2019.746,0.652),(2019.755,0.644),(2019.763,0.640),(2019.772,0.625),(2019.777,0.578),(2019.785,0.539),(2019.794,0.539),(2019.802,0.543),(2019.811,0.566),(2019.819,0.578),(2019.828,0.594),(2019.836,0.597),(2019.845,0.594),(2019.853,0.594),(2019.860,0.625),(2019.865,0.625),(2019.870,0.590),(2019.879,0.605),(2019.887,0.605),(2019.896,0.597),(2019.904,0.605),(2019.912,0.594),(2019.921,0.586),(2019.929,0.594),(2019.938,0.597),(2019.946,0.570),(2019.955,0.532),(2019.963,0.528),(2019.972,0.532),(2019.980,0.539),(2019.989,0.539),(2019.997,0.539),(2020.006,0.543),(2020.014,0.535),(2020.023,0.543),(2020.026,0.632),(2020.035,0.632),(2020.043,0.640),(2020.052,0.648),(2020.060,0.644),(2020.068,0.632),(2020.077,0.644),(2020.085,0.640),(2020.091,0.675),(2020.097,0.772),(2020.102,0.965),(2020.111,0.969),(2020.119,0.969),(2020.128,0.965),(2020.136,0.971),(2020.145,0.965),(2020.153,0.961),(2020.162,0.957),(2020.170,0.957),(2020.179,0.959),(2020.187,0.957),(2020.196,0.954),(2020.204,0.950),(2020.213,0.950),(2020.221,0.954),(2020.226,0.733),(2020.233,0.597),(2020.240,0.597),(2020.247,0.888),(2020.250,0.977),(2020.258,0.981),(2020.267,0.981),(2020.275,0.981),(2020.284,0.981),(2020.292,0.981),(2020.301,0.973),(2020.309,0.973),(2020.318,0.969),(2020.326,0.849),(2020.335,0.845),(2020.340,0.826),(2020.345,0.803),(2020.353,0.787),(2020.362,0.787),(2020.370,0.849),(2020.374,0.981),(2020.382,0.988),(2020.391,0.990),(2020.399,0.985),(2020.408,0.986),(2020.416,0.985),(2020.425,0.985),(2020.433,0.985),(2020.442,0.985),(2020.450,0.986),(2020.459,0.986),(2020.467,0.988),(2020.476,0.988),(2020.481,0.849),(2020.484,0.733),(2020.492,0.663),(2020.501,0.636),(2020.509,0.617),(2020.518,0.590),(2020.526,0.586),(2020.535,0.594),(2020.543,0.570),(2020.552,0.555),(2020.560,0.578),(2020.565,0.625),(2020.574,0.632),(2020.582,0.632),(2020.591,0.663),(2020.599,0.694),(2020.608,0.702),(2020.616,0.733),(2020.625,0.737),(2020.633,0.725),(2020.642,0.698),(2020.650,0.675),(2020.659,0.667),(2020.667,0.671),(2020.676,0.675),(2020.684,0.683),(2020.693,0.694),(2020.701,0.590),(2020.708,0.590),(2020.715,0.698),(2020.721,0.721),(2020.730,0.725),(2020.738,0.741),(2020.747,0.733),(2020.755,0.745),(2020.764,0.733),(2020.772,0.748),(2020.781,0.725),(2020.789,0.706),(2020.794,0.787),(2020.803,0.764),(2020.811,0.764),(2020.820,0.760),(2020.828,0.756),(2020.837,0.752),(2020.845,0.741),(2020.854,0.717),(2020.862,0.679),(2020.871,0.655),(2020.879,0.640),(2020.888,0.648),(2020.894,0.675),(2020.901,0.617),(2020.908,0.613),(2020.916,0.617),(2020.925,0.570),(2020.933,0.570),(2020.942,0.570),(2020.950,0.574),(2020.959,0.632),(2020.967,0.632),(2020.976,0.628),(2020.984,0.594),(2020.993,0.594),(2021.001,0.594),(2021.010,0.590),(2021.018,0.594),(2021.027,0.636)]

sn_year, sn_value = [p[0] for p in sn_points], [p[1] for p in sn_points]
sc_year, sc_value = [p[0] for p in sc_points], [p[1] for p in sc_points]
c_year, c_value = [p[0] for p in c_points], [p[1] for p in c_points]
t_year, t_value = [p[0] for p in t_points], [p[1] for p in t_points]

year_ticks = [2016, 2017, 2018, 2019, 2020, 2021]
year_labels = ["2016", "2017", "2018", "2019", "2020", "2021"]
sn_ticks = [2, 3, 4, 5]
sn_labels = ["2", "3", "4", "5"]
sc_ticks = [0.0, 0.5, 1.0, 1.5]
sc_labels = ["0.0", "0.5", "1.0", "1.5"]
c_ticks = [0.4, 0.5, 0.6, 0.7, 0.8, 0.9]
c_labels = ["0.4", "0.5", "0.6", "0.7", "0.8", "0.9"]
t_ticks = [0.4, 0.5, 0.6, 0.7, 0.8, 0.9, 1.0]
t_labels = ["0.4", "0.5", "0.6", "0.7", "0.8", "0.9", "1.0"]

# ---------------- styling ----------------
PAGE_OFF = 8            # default body margin of the html page
W, H = 3106 - 2 * PAGE_OFF, 2095 - 2 * PAGE_OFF
LINE_COLOR = "#5E81B5"
FONT = "Liberation Sans, Arial, Helvetica, sans-serif"
FS = 50

def px_x(v):
    return (v - PAGE_OFF) / W

def px_y(v):
    return 1 - (v - PAGE_OFF) / H

fig = go.Figure()
panels = [
    ("x", "y", sn_year, sn_value),
    ("x2", "y2", sc_year, sc_value),
    ("x3", "y3", c_year, c_value),
    ("x4", "y4", t_year, t_value),
]
for xa, ya, xs, ys in panels:
    fig.add_trace(go.Scatter(x=xs, y=ys, mode="lines", xaxis=xa, yaxis=ya,
                             line=dict(color=LINE_COLOR, width=8),
                             showlegend=False, hoverinfo="skip"))

def axis_common(tickvals, ticktext, minor_dtick, minor_tick0, rng, domain, anchor, standoff):
    return dict(
        domain=domain, anchor=anchor, range=rng, autorange=False, automargin=False,
        showline=True, linecolor="black", linewidth=1.6, mirror="ticks",
        ticks="inside", ticklen=16, tickwidth=1.6, tickcolor="black",
        tickmode="array", tickvals=tickvals, ticktext=ticktext,
        tickfont=dict(family=FONT, size=FS, color="black", weight="bold"),
        ticklabelstandoff=standoff,
        showgrid=False, zeroline=False,
        minor=dict(ticks="inside", ticklen=10, tickwidth=1.6, tickcolor="black",
                   tickmode="linear", tick0=minor_tick0, dtick=minor_dtick, showgrid=False),
    )

XR = [2016.0, 2021.23]
dom_left = [px_x(154.6), px_x(1534.5)]
dom_right = [px_x(1729.5), px_x(3066.5)]
dom_cleft = [px_x(198.3), px_x(1534.3)]

layout = dict(
    width=W, height=H, margin=dict(l=0, r=0, t=0, b=0, autoexpand=False),
    paper_bgcolor="white", plot_bgcolor="white", showlegend=False,
    xaxis=axis_common(year_ticks, year_labels, 0.25, 2016, XR, dom_left, "y", 0),
    yaxis=axis_common(sn_ticks, sn_labels, 0.2, 0, [1.5, 5.6], [px_y(888), px_y(35)], "x", 0),
    xaxis2=axis_common(year_ticks, year_labels, 0.25, 2016, XR, dom_right, "y2", 0),
    yaxis2=axis_common(sc_ticks, sc_labels, 0.1, 0, [-0.034, 1.717], [px_y(890.4), px_y(64.3)], "x2", 0),
    xaxis3=axis_common(year_ticks, year_labels, 0.25, 2016, XR, dom_cleft, "y3", 3),
    yaxis3=axis_common(c_ticks, c_labels, 0.02, 0.4, [0.4, 0.9], [px_y(1900.8), px_y(1075)], "x3", 0),
    xaxis4=axis_common(year_ticks, year_labels, 0.25, 2016, XR, dom_right, "y4", 3),
    yaxis4=axis_common(t_ticks, t_labels, 0.02, 0.4, [0.4, 1.0], [px_y(1900.8), px_y(1075)], "x4", 0),
)
fig.update_layout(**layout)

titles = [
    ("SN", 53, 463, -90),
    ("SC", 1585.5, 478.5, -90),
    ("C", 53, 1491, -90),
    ("T", 1585, 1489, -90),
    ("Year", 844.5, 1020, 0),
    ("Year", 2398, 1022, 0),
    ("Year", 866.3, 2033.5, 0),
    ("Year", 2398, 2033.5, 0),
]
for text, xp, yp, ang in titles:
    fig.add_annotation(text=text, x=px_x(xp), y=px_y(yp), xref="paper", yref="paper",
                       xanchor="center", yanchor="middle", showarrow=False, textangle=ang,
                       font=dict(family=FONT, size=FS, color="black", weight="bold"))

fig.write_html("out.html")
